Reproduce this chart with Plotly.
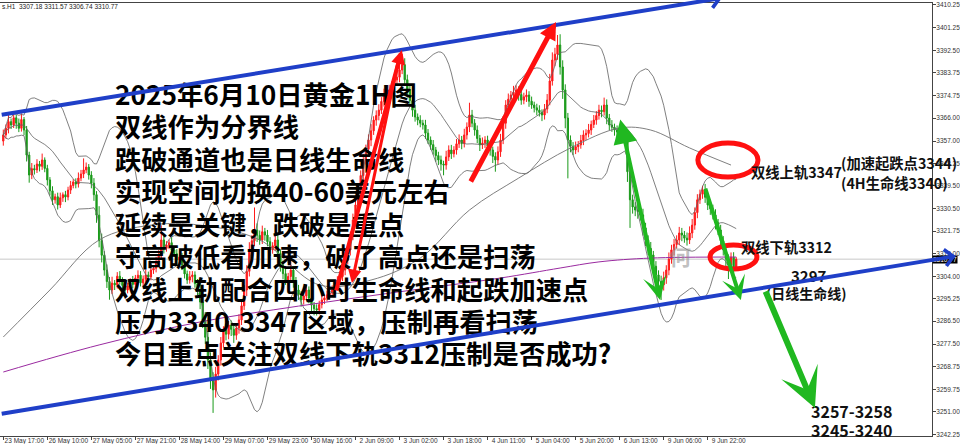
import plotly.graph_objects as go
import pandas as pd

# ---------------- data ----------------
closes = [
    3359.4, 3362.0, 3364.6, 3363.3, 3366.1, 3364.0, 3362.0, 3365.4, 3361.3, 3351.5,
    3343.7, 3346.2, 3345.7, 3348.0, 3347.1, 3349.6, 3346.3, 3341.8, 3337.5, 3334.0,
    3335.2, 3332.0, 3334.8, 3336.0, 3335.1, 3337.8, 3339.6, 3341.0, 3340.2, 3342.5,
    3344.1, 3345.7, 3346.8, 3343.7, 3340.5, 3336.0, 3328.0, 3318.0, 3312.3, 3306.5,
    3302.0, 3298.7, 3301.4, 3300.7, 3304.1, 3302.6, 3300.5, 3298.7, 3300.3, 3301.8,
    3300.9, 3303.4, 3304.5, 3301.5, 3303.0, 3304.6, 3303.8, 3306.5, 3307.2, 3309.7,
    3312.5, 3318.3, 3315.0, 3316.3, 3317.2, 3314.4, 3312.9, 3310.4, 3311.6, 3308.5,
    3305.0, 3302.6, 3303.9, 3304.6, 3301.2, 3298.7, 3294.0, 3287.0, 3280.2, 3271.3,
    3264.0, 3259.6, 3265.8, 3271.3, 3278.0, 3283.0, 3281.4, 3285.0, 3283.3, 3281.0,
    3283.8, 3287.0, 3292.5, 3298.7, 3306.0, 3314.4, 3318.0, 3322.2, 3320.1, 3318.3,
    3321.5, 3320.2, 3317.6, 3314.4, 3316.0, 3318.3, 3313.0, 3308.5, 3305.1, 3302.6,
    3304.0, 3306.5, 3302.0, 3298.7, 3297.0, 3294.8, 3296.4, 3298.7, 3295.5, 3292.8,
    3291.4, 3290.9, 3293.0, 3294.8, 3295.6, 3296.8, 3297.5, 3298.7, 3300.4, 3302.6,
    3304.0, 3306.5, 3310.3, 3314.4, 3320.0, 3326.1, 3332.0, 3337.8, 3343.5, 3349.6,
    3353.8, 3357.4, 3361.0, 3365.2, 3367.0, 3369.1, 3372.5, 3375.0, 3374.2, 3377.0,
    3378.6, 3380.9, 3382.0, 3384.8, 3386.9, 3381.0, 3377.0, 3372.8, 3369.1, 3366.4,
    3365.2, 3364.0, 3363.3, 3360.1, 3357.4, 3355.6, 3353.5, 3351.3, 3349.6, 3348.0,
    3347.6, 3350.8, 3353.5, 3352.0, 3353.5, 3355.9, 3357.4, 3356.0, 3359.4, 3362.5,
    3367.2, 3364.0, 3361.3, 3358.0, 3355.5, 3356.2, 3357.4, 3355.0, 3353.5, 3351.0,
    3349.6, 3352.8, 3357.4, 3364.0, 3371.1, 3373.4, 3375.0, 3376.1, 3377.0, 3375.2,
    3373.0, 3374.3, 3375.0, 3372.6, 3371.1, 3370.0, 3369.1, 3368.2, 3367.2, 3369.5,
    3373.0, 3380.5, 3388.7, 3391.0, 3394.6, 3386.0, 3377.0, 3366.0, 3357.4, 3355.0,
    3353.5, 3354.8, 3355.5, 3357.2, 3359.4, 3360.0, 3361.3, 3363.5, 3365.2, 3367.0,
    3369.1, 3368.5, 3371.1, 3366.0, 3363.3, 3362.4, 3361.3, 3360.5, 3359.4, 3358.6,
    3357.4, 3345.0, 3334.0, 3331.2, 3330.0, 3329.4, 3328.1, 3323.0, 3318.3, 3315.0,
    3312.4, 3308.0, 3304.6, 3302.1, 3300.7, 3303.5, 3306.5, 3310.8, 3314.4, 3316.5,
    3318.3, 3321.0, 3320.2, 3319.0, 3318.3, 3321.0, 3324.1, 3329.0, 3334.0, 3336.2,
    3337.8, 3335.0, 3332.0, 3330.5, 3328.1, 3325.0, 3322.2, 3318.0, 3314.4, 3311.0,
    3308.5, 3311.5, 3307.18, 3310.77,
]
first_open = 3357.0

wick_up = [
    2.1, 1.5, 2.8, 1.2, 2.0, 1.1, 1.8, 2.4, 1.0, 1.6, 1.3, 2.2, 1.5, 1.9, 1.2, 2.5, 1.0, 1.4, 1.1, 1.8,
    1.2, 1.6, 2.0, 0.9, 1.5, 1.3, 1.8, 1.1, 1.4, 2.2, 1.6, 4.5, 1.8, 1.2, 1.5, 2.0, 1.4, 3.5, 2.8, 1.6,
    2.2, 1.8, 2.5, 1.2, 1.6, 2.0, 1.1, 1.8, 1.3, 1.5, 2.4, 1.2, 1.9, 1.6, 1.4, 2.1, 1.3, 1.7, 1.2, 2.0,
    1.8, 5.7, 2.0, 1.5, 1.2, 2.2, 1.4, 1.8, 1.0, 1.6, 1.9, 1.3, 2.2, 1.5, 1.4, 1.8, 2.5, 2.0, 3.1, 2.4,
    3.0, 2.5, 2.8, 1.9, 2.3, 1.5, 2.8, 1.6, 1.8, 2.0, 1.4, 2.2, 1.5, 1.9, 2.4, 3.0, 2.2, 8.8, 2.6, 1.9,
    2.4, 1.5, 2.0, 1.8, 1.4, 2.1, 2.6, 1.5, 1.8, 2.2, 1.4, 5.5, 1.6, 1.8, 2.0, 1.3, 1.6, 2.1, 1.4, 1.9,
    1.2, 1.7, 1.5, 2.0, 1.3, 1.6, 1.1, 1.8, 1.4, 1.5, 2.0, 1.8, 2.4, 2.2, 1.6, 2.5, 1.9, 2.8, 2.0, 2.4,
    1.8, 2.2, 2.6, 1.5, 2.0, 2.3, 1.7, 2.5, 1.6, 2.0, 1.8, 2.4, 1.5, 2.2, 3.8, 2.5, 2.0, 1.8, 1.6, 2.1,
    1.4, 1.9, 1.3, 2.0, 1.6, 1.4, 1.8, 1.2, 1.5, 1.7, 1.3, 2.4, 1.8, 2.0, 1.5, 1.9, 2.2, 1.6, 2.4, 1.8,
    4.8, 2.0, 1.6, 1.8, 1.4, 2.2, 1.5, 1.7, 2.0, 1.3, 1.6, 2.1, 2.4, 2.8, 1.9, 2.2, 1.6, 2.5, 1.8, 1.4,
    1.9, 1.6, 2.2, 1.5, 1.8, 1.3, 1.6, 1.9, 1.2, 2.0, 2.4, 2.8, 3.0, 2.5, 3.9, 4.2, 2.6, 2.2, 2.0, 1.8,
    1.6, 2.0, 1.5, 2.2, 1.8, 1.6, 2.4, 1.5, 2.0, 1.7, 2.1, 1.8, 2.9, 2.2, 1.6, 1.9, 1.4, 1.8, 1.5, 1.7,
    1.6, 2.8, 2.4, 2.0, 1.8, 2.2, 1.6, 2.4, 2.0, 1.8, 2.5, 1.6, 2.0, 1.8, 2.2, 2.4, 1.9, 2.6, 2.0, 2.2,
    1.8, 2.4, 2.0, 1.6, 2.2, 2.6, 2.4, 2.0, 2.2, 1.8, 1.7, 2.4, 1.8, 2.0, 1.6, 2.2, 1.5, 2.0, 1.8, 2.4,
    1.6, 1.9, 2.0, 0.8,
]
wick_dn = [
    1.8, 1.4, 2.0, 1.6, 1.2, 2.2, 1.5, 1.3, 2.0, 2.5, 3.0, 1.6, 1.8, 1.2, 2.0, 1.4, 1.5, 2.2, 1.8, 2.0,
    1.5, 1.8, 1.2, 1.6, 2.0, 1.3, 1.5, 1.1, 1.7, 1.4, 1.2, 1.6, 1.3, 1.8, 2.0, 2.4, 3.0, 2.6, 2.8, 2.2,
    2.5, 3.8, 1.6, 2.0, 1.4, 1.8, 2.2, 1.6, 1.3, 1.7, 1.5, 1.9, 2.0, 1.4, 1.6, 1.2, 1.8, 1.3, 1.5, 1.6,
    1.4, 1.8, 2.0, 1.3, 1.6, 1.5, 1.2, 1.9, 1.6, 2.0, 1.8, 1.5, 1.4, 2.2, 1.6, 2.0, 2.8, 3.2, 2.6, 3.5,
    4.0, 9.0, 3.0, 2.5, 2.2, 1.8, 2.4, 2.0, 2.6, 3.0, 1.8, 2.2, 2.0, 1.6, 2.4, 2.0, 1.8, 2.2, 2.6, 1.9,
    1.6, 2.2, 1.8, 2.4, 1.5, 2.0, 1.7, 2.6, 2.2, 1.9, 1.6, 1.8, 2.4, 2.0, 2.2, 2.6, 1.8, 1.5, 2.0, 2.3,
    2.6, 2.2, 1.8, 1.5, 1.6, 1.3, 1.8, 1.4, 1.6, 1.2, 1.5, 1.8, 2.0, 1.6, 2.2, 1.8, 2.4, 2.0, 2.6, 2.2,
    1.8, 2.0, 2.4, 1.6, 2.2, 1.9, 1.5, 2.0, 1.8, 1.6, 2.2, 1.5, 1.8, 2.0, 1.6, 2.4, 3.0, 2.2, 2.6, 1.8,
    2.0, 1.6, 1.8, 2.2, 1.5, 2.0, 1.8, 2.4, 2.0, 2.6, 4.0, 1.8, 1.6, 2.0, 1.4, 1.8, 1.6, 2.2, 1.5, 1.8,
    2.0, 1.6, 2.2, 1.8, 2.4, 1.6, 1.9, 2.0, 2.2, 2.6, 4.6, 1.8, 2.0, 1.6, 2.2, 1.5, 1.8, 1.6, 2.0, 2.4,
    1.8, 1.6, 2.0, 2.2, 1.5, 1.8, 2.0, 1.6, 2.4, 1.8, 1.6, 2.0, 1.8, 2.4, 2.2, 3.0, 3.5, 4.0, 15.0, 2.4,
    2.0, 1.6, 2.2, 1.5, 1.8, 2.0, 1.6, 1.9, 1.4, 1.8, 1.6, 2.2, 1.5, 2.4, 2.0, 1.8, 2.2, 1.6, 2.0, 1.8,
    2.2, 4.0, 11.0, 2.6, 2.4, 2.8, 2.2, 3.0, 2.4, 2.6, 2.2, 2.8, 2.4, 2.6, 5.9, 2.2, 2.4, 2.0, 1.8, 2.2,
    1.6, 2.0, 2.4, 1.8, 2.2, 1.6, 2.0, 1.8, 2.2, 1.6, 1.8, 2.2, 2.0, 2.4, 1.8, 2.6, 2.0, 2.4, 2.2, 3.0,
    5.5, 2.4, 2.0, 0.44,
]

# long moving average ("双线上轨", gray): bar index -> price
ma_gray_bar = [0, 18, 37, 57, 76, 99, 122, 142, 161, 180, 199, 219, 238, 250, 265, 281]
ma_gray_val = [3280.3, 3298.7, 3318.3, 3324.1, 3324.1, 3318.3, 3300.7, 3302.6, 3311.2, 3330.0,
               3342.5, 3354.3, 3362.1, 3361.3, 3354.3, 3347.6]
# longer moving average ("双线下轨", purple)
ma_purple_bar = [0, 37, 76, 114, 153, 192, 215, 230, 250, 283]
ma_purple_val = [3266.6, 3277.2, 3286.2, 3292.4, 3298.0, 3303.4, 3307.3, 3309.7, 3311.2, 3311.6]

time_tick_bars = [0, 17, 34, 51, 68, 85, 102, 119, 136, 153, 170, 187, 204, 221, 238, 255, 272]
time_tick_labels = ["23 May 17:00", "26 May 10:00", "27 May 05:00", "27 May 21:00", "28 May 14:00",
                    "29 May 07:00", "29 May 23:00", "30 May 16:00", "2 Jun 09:00", "3 Jun 02:00",
                    "3 Jun 18:00", "4 Jun 11:00", "5 Jun 04:00", "5 Jun 20:00", "6 Jun 13:00",
                    "9 Jun 06:00", "9 Jun 22:00"]
price_ticks = [3410.25, 3401.25, 3392.50, 3383.75, 3374.75, 3366.00, 3357.00, 3348.25, 3339.50,
               3330.50, 3321.75, 3313.00, 3304.00, 3295.25, 3286.50, 3277.50, 3268.75, 3259.75,
               3251.00, 3242.25]

last_bar = {"open": 3307.18, "high": 3311.57, "low": 3306.74, "close": 3310.77}

# ---------------- derived ----------------
bars = list(range(len(closes)))
opens = [first_open] + closes[:-1]
highs = [max(o, c) + w for o, c, w in zip(opens, closes, wick_up)]
lows = [min(o, c) - w for o, c, w in zip(opens, closes, wick_dn)]
s = pd.Series(closes)
bb_mid = s.rolling(20, min_periods=1).mean()
bb_std = s.rolling(20, min_periods=1).std(ddof=0)
bb_up = bb_mid + 2 * bb_std
bb_lo = bb_mid - 2 * bb_std

CJK = "Noto Sans CJK SC"
fig = go.Figure()

fig.add_trace(go.Candlestick(
    x=bars, open=opens, high=highs, low=lows, close=closes,
    increasing=dict(line=dict(color="#ff1a1a", width=1), fillcolor="#ff1a1a"),
    decreasing=dict(line=dict(color="#1a9a1a", width=1), fillcolor="#1a9a1a"),
    whiskerwidth=0, showlegend=False, hoverinfo="skip"))

for band in (bb_up, bb_mid, bb_lo):
    fig.add_trace(go.Scatter(x=bars, y=band, mode="lines",
                             line=dict(color="#606060", width=0.8),
                             showlegend=False, hoverinfo="skip"))
fig.add_trace(go.Scatter(x=ma_gray_bar, y=ma_gray_val, mode="lines",
                         line=dict(color="#707070", width=0.9, shape="spline"),
                         showlegend=False, hoverinfo="skip"))
fig.add_trace(go.Scatter(x=ma_purple_bar, y=ma_purple_val, mode="lines",
                         line=dict(color="#9a2aa0", width=1, shape="spline"),
                         showlegend=False, hoverinfo="skip"))

# bid line
fig.add_shape(type="line", xref="paper", x0=0, x1=1, yref="y",
              y0=last_bar["close"], y1=last_bar["close"],
              line=dict(color="#c8c8c8", width=1), layer="below")

# red ellipses
fig.add_shape(type="circle", xref="x", yref="y", x0=268.2, x1=291.4, y0=3342.9, y1=3356.2,
              line=dict(color="#ff1010", width=5))
fig.add_shape(type="circle", xref="x", yref="y", x0=272.9, x1=291.0, y0=3306.9, y1=3316.3,
              line=dict(color="#ff1010", width=5))

ann = []
# faint watermark
ann.append(dict(xref="paper", yref="paper", x=0.7296, y=0.4180, xanchor="center",
                yanchor="middle", text="<b>何</b>", showarrow=False,
                font=dict(family=CJK, size=22, color="rgba(140,140,140,0.55)")))
# header
ann.append(dict(xref="paper", yref="paper", x=0.0, y=0.991, xanchor="left", yanchor="middle",
                text="s.H1  %.2f %.2f %.2f %.2f" % (last_bar["open"], last_bar["high"],
                                                   last_bar["low"], last_bar["close"]),
                showarrow=False, font=dict(family="Liberation Sans", size=6.5, color="#222")))
# current price tag
ann.append(dict(xref="paper", yref="y", x=1.0, y=last_bar["close"], xanchor="left",
                yanchor="middle", text="%.2f" % last_bar["close"], showarrow=False,
                bgcolor="#000000", borderpad=0,
                font=dict(family="Liberation Sans", size=6.5, color="#ffffff")))

main_lines = ["2025年6月10日黄金1H图", "双线作为分界线", "跌破通道也是日线生命线",
              "实现空间切换40-60美元左右", "延续是关键，跌破是重点",
              "守高破低看加速，破了高点还是扫荡", "双线上轨配合四小时生命线和起跌加速点",
              "压力3340-3347区域，压制再看扫荡", "今日重点关注双线下轨3312压制是否成功?"]
main_y = [0.7921, 0.7171, 0.6420, 0.5670, 0.4919, 0.4169, 0.3418, 0.2667, 0.1917]
for t, yy in zip(main_lines, main_y):
    ann.append(dict(xref="paper", yref="paper", x=0.1212, y=yy, xanchor="left",
                    yanchor="middle", text="<b>%s</b>" % t, showarrow=False,
                    font=dict(family=CJK, size=26.3, color="#000000")))

side = [("双线上轨3347", 0.8050, 0.6097, 14.3), ("(加速起跌点3344)", 0.9015, 0.6305, 14.3),
        ("(4H生命线3340)", 0.9015, 0.5866, 14.3), ("双线下轨3312", 0.7942, 0.4365, 14.3),
        ("3297", 0.8479, 0.3718, 15), ("(日线生命线)", 0.8210, 0.3303, 14),
        ("3257-3258", 0.8693, 0.0570, 16), ("3245-3240", 0.8693, 0.0130, 16)]
for t, xx, yy, sz in side:
    ann.append(dict(xref="paper", yref="paper", x=xx, y=yy, xanchor="left", yanchor="middle",
                    text="<b>%s</b>" % t, showarrow=False, borderpad=0,
                    font=dict(family=CJK, size=sz, color="#111111")))

def arrow(tail, head, color, width, head_style, size, start_style=None, start_size=1.0):
    d = dict(xref="x", yref="y", axref="x", ayref="y", x=head[0], y=head[1],
             ax=tail[0], ay=tail[1], text="", showarrow=True, arrowcolor=color,
             arrowwidth=width, arrowhead=head_style, arrowsize=size,
             font=dict(size=1), standoff=0)
    if start_style is not None:
        d.update(arrowside="end+start", startarrowhead=start_style, startarrowsize=start_size)
    return d

BLUE = "#1f3fc8"
RED = "#ff1010"
GREEN = "#20b820"
ann.append(arrow((-1.2, 3367.2), (277.5, 3413.0), BLUE, 4, 4, 0.8))
ann.append(arrow((-1.2, 3250.2), (367.8, 3312.0), BLUE, 4, 4, 0.8))
ann.append(arrow((128.4, 3297.9), (153.9, 3392.6), RED, 4, 2, 0.7))
ann.append(arrow((152.4, 3387.9), (134.6, 3301.4), RED, 3, 2, 0.9))
ann.append(arrow((180.2, 3340.6), (213.4, 3403.6), RED, 5, 2, 0.7))
ann.append(arrow((238.1, 3366.0), (253.6, 3294.8), GREEN, 4, 3, 1.0, 2, 1.2))
ann.append(arrow((270.9, 3339.0), (284.8, 3294.8), GREEN, 4, 3, 1.0))
ann.append(arrow((294.1, 3298.7), (313.4, 3252.5), GREEN, 6, 3, 1.1))

fig.update_layout(
    width=960, height=444, margin=dict(l=0, r=28, t=3, b=8, autoexpand=False),
    paper_bgcolor="#ffffff", plot_bgcolor="#ffffff", showlegend=False,
    annotations=ann,
    xaxis=dict(range=[-1.274, 358.6], rangeslider=dict(visible=False), showgrid=False,
               zeroline=False, tickmode="array", tickvals=time_tick_bars,
               ticktext=time_tick_labels, ticks="outside", ticklen=3, tickcolor="#444",
               tickfont=dict(family="Liberation Sans", size=6.5, color="#333"),
               ticklabelshift=21, ticklabelstandoff=-5, automargin=False,
               showline=True, mirror=True, linecolor="#444", linewidth=1),
    yaxis=dict(range=[3241.56, 3411.03], side="right", showgrid=False, zeroline=False,
               tickmode="array", tickvals=price_ticks, ticktext=["%.2f" % v for v in price_ticks],
               ticks="outside", ticklen=3, tickcolor="#444", automargin=False,
               tickfont=dict(family="Liberation Sans", size=6.5, color="#333"),
               ticklabelstandoff=-1,
               showline=True, mirror=True, linecolor="#444", linewidth=1),
)

fig.write_html("out.html", config={"displayModeBar": False},
               post_script="document.body.style.margin='0';document.body.style.overflow='hidden';")
